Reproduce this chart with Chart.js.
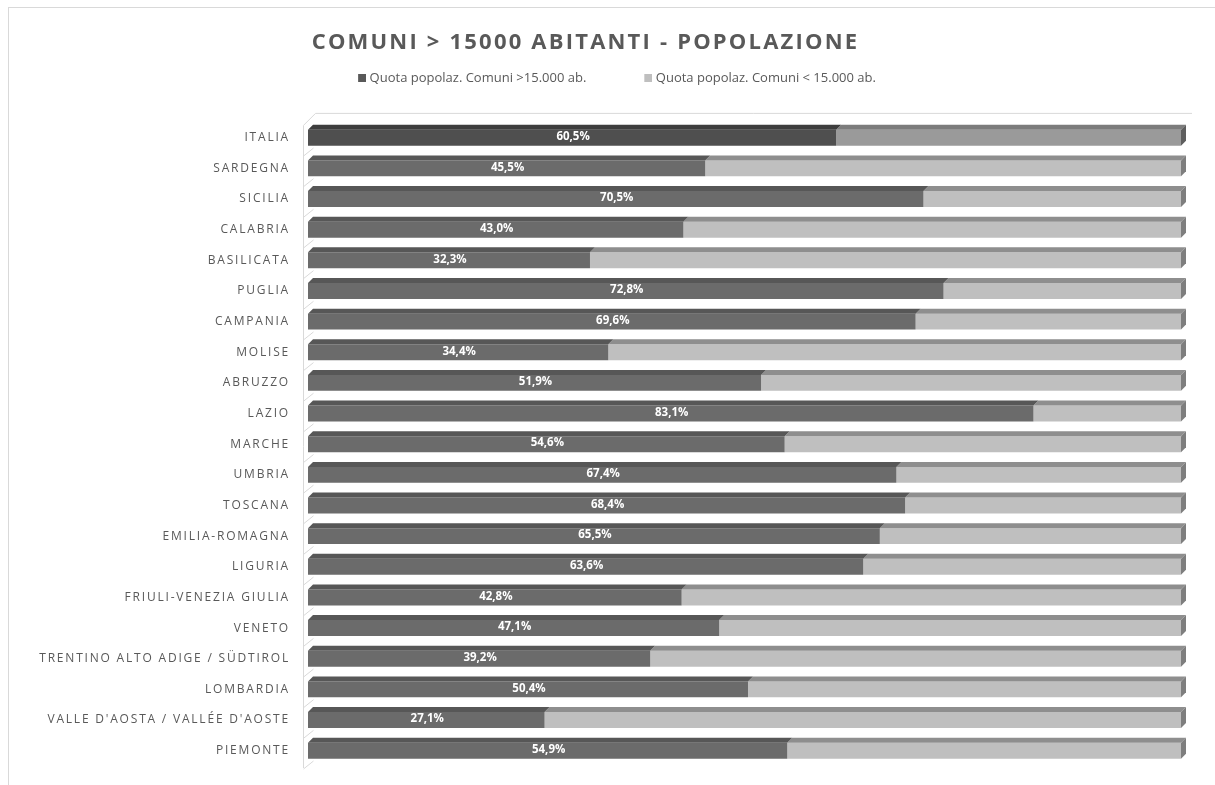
<!DOCTYPE html>
<html><head><meta charset="utf-8">
<script src="https://cdn.jsdelivr.net/npm/chart.js@4"></script>
<style>
html,body{margin:0;padding:0;background:#fff;overflow:hidden}
#frame{position:absolute;left:8px;top:7px;width:1215px;height:800px;border-left:1px solid #d9d9d9;border-top:1px solid #d9d9d9}
#wrap{position:absolute;left:0;top:0;width:1215px;height:785px}
</style></head><body>
<div id="frame"></div>
<div id="wrap"><canvas id="c" width="1215" height="785"></canvas></div>
<script>
const categories = ["ITALIA","SARDEGNA","SICILIA","CALABRIA","BASILICATA","PUGLIA","CAMPANIA","MOLISE","ABRUZZO","LAZIO","MARCHE","UMBRIA","TOSCANA","EMILIA-ROMAGNA","LIGURIA","FRIULI-VENEZIA GIULIA","VENETO","TRENTINO ALTO ADIGE / SÜDTIROL","LOMBARDIA","VALLE D'AOSTA / VALLÉE D'AOSTE","PIEMONTE"];
const quotaSopra = [60.5,45.5,70.5,43.0,32.3,72.8,69.6,34.4,51.9,83.1,54.6,67.4,68.4,65.5,63.6,42.8,47.1,39.2,50.4,27.1,54.9];
const quotaSotto = [39.5,54.5,29.5,57.0,67.7,27.2,30.4,65.6,48.1,16.9,45.4,32.6,31.6,34.5,36.4,57.2,52.9,60.8,49.6,72.9,45.1];
const seriesLabels = ["Quota popolaz. Comuni >15.000 ab.","Quota popolaz. Comuni < 15.000 ab."];
const titleText = "COMUNI > 15000 ABITANTI - POPOLAZIONE";

Chart.defaults.font.family = "'Open Sans', sans-serif";

const frontColors = [["#4f4f4f","#6b6b6b"],["#9a9a9a","#bfbfbf"]];
const topColors = [["#3d3d3d","#575757"],["#7c7c7c","#8e8e8e"]];
const sideColors = ["#5e5e5e","#7e7e7e"];
const legendFills = ["#595959","#bfbfbf"];
const D = 5;
const LEG_W = 58;

function legendSwatch(color){
  const cv = document.createElement('canvas');
  cv.width = LEG_W + 6; cv.height = 8;
  const g = cv.getContext('2d');
  g.fillStyle = color; g.fillRect(LEG_W + 6 - 8, 0, 8, 8);
  return cv;
}
const swatches = legendFills.map(legendSwatch);

const threeD = {
  id:'threeD',
  beforeDatasetsDraw(chart){
    const ctx = chart.ctx, a = chart.chartArea, ys = chart.scales.y;
    const step = ys.getPixelForValue(1) - ys.getPixelForValue(0);
    ctx.save();
    ctx.letterSpacing = '0px';
    ctx.strokeStyle = '#d9d9d9'; ctx.lineWidth = 1;
    ctx.beginPath();
    const lx = a.left - 4.5;
    ctx.moveTo(lx, a.top + 3); ctx.lineTo(lx, a.bottom + 2);
    ctx.moveTo(lx, a.top + 3); ctx.lineTo(lx + 12, a.top - 9);
    ctx.lineTo(a.right + 11, a.top - 9);
    for (let i = 1; i <= categories.length; i++) {
      const yb = ys.getPixelForValue(0) - step/2 + i*step + 3;
      ctx.moveTo(lx, yb); ctx.lineTo(lx + 10, yb - 8);
    }
    ctx.stroke();
    ctx.restore();
  },
  afterDatasetsDraw(chart){
    const ctx = chart.ctx;
    ctx.save();
    ctx.letterSpacing = '0px';
    const n = chart.data.datasets.length;
    for (let di = n - 1; di >= 0; di--) {
      const meta = chart.getDatasetMeta(di);
      meta.data.forEach((el, i) => {
        const p = el.getProps(['x','y','base','height'], true);
        const x0 = Math.min(p.base, p.x), x1 = Math.max(p.base, p.x);
        const t = p.y - p.height/2, b = p.y + p.height/2;
        ctx.fillStyle = topColors[di][i === 0 ? 0 : 1];
        ctx.beginPath();
        ctx.moveTo(x0, t); ctx.lineTo(x0 + D, t - D); ctx.lineTo(x1 + D, t - D); ctx.lineTo(x1, t);
        ctx.closePath(); ctx.fill();
        if (di === n - 1) {
          ctx.fillStyle = sideColors[i === 0 ? 0 : 1];
          ctx.beginPath();
          ctx.moveTo(x1, t); ctx.lineTo(x1 + D, t - D); ctx.lineTo(x1 + D, b - D); ctx.lineTo(x1, b);
          ctx.closePath(); ctx.fill();
        }
      });
    }
    const meta0 = chart.getDatasetMeta(0);
    ctx.fillStyle = '#ffffff';
    ctx.font = "bold 11.5px 'Open Sans', sans-serif";
    ctx.textAlign = 'center'; ctx.textBaseline = 'middle';
    meta0.data.forEach((el, i) => {
      const p = el.getProps(['x','y','base'], true);
      ctx.fillText(quotaSopra[i].toFixed(1).replace('.', ',') + '%', (p.x + p.base)/2 + 1, p.y - 1);
    });
    ctx.restore();
  }
};

const chart = new Chart(document.getElementById('c'), {
  type:'bar',
  data:{
    labels: categories,
    datasets:[
      {label: seriesLabels[0], data: quotaSopra, backgroundColor: categories.map((c,i)=>frontColors[0][i===0?0:1]), stack:'s', barPercentage:0.52, categoryPercentage:1},
      {label: seriesLabels[1], data: quotaSotto, backgroundColor: categories.map((c,i)=>frontColors[1][i===0?0:1]), stack:'s', barPercentage:0.52, categoryPercentage:1}
    ]
  },
  options:{
    responsive:false, animation:false, indexAxis:'y',
    layout:{padding:{left:0,right:34,top:0,bottom:19}},
    plugins:{
      title:{display:true, text:titleText, color:'#595959', font:{size:22, weight:'bold'}, padding:{top:30,bottom:10}},
      legend:{display:true, labels:{usePointStyle:true, pointStyleWidth:LEG_W, boxHeight:8, color:'#595959', font:{size:13}, padding:5,
        generateLabels(chart){
          return chart.data.datasets.map((ds,i)=>({text:ds.label, fillStyle:legendFills[i], strokeStyle:legendFills[i], lineWidth:0, pointStyle:swatches[i], datasetIndex:i, hidden:false, fontColor:'#595959'}));
        }}},
      tooltip:{enabled:false}
    },
    scales:{
      x:{stacked:true, min:0, max:100, position:'top', display:true,
         ticks:{display:false}, grid:{display:false, drawTicks:false}, border:{display:false},
         afterFit(s){ s.height = 28; }},
      y:{stacked:true, grid:{display:false}, border:{display:false},
         ticks:{color:'#595959', font:{size:12}, padding:10, autoSkip:false},
         afterFit(s){ s.width = 308; }}
    }
  },
  plugins:[threeD]
});

// letter spacing for title and category labels
const origTitleDraw = chart.titleBlock.draw.bind(chart.titleBlock);
chart.titleBlock.draw = function(){ const c = chart.ctx; c.save(); c.translate(-5, 0); c.letterSpacing = '2.2px'; origTitleDraw(); c.restore(); };
const ysc = chart.scales.y;
const origDrawLabels = ysc.drawLabels.bind(ysc);
ysc.drawLabels = function(area){ const c = chart.ctx; c.save(); c.letterSpacing = '1.8px'; origDrawLabels(area); c.restore(); };
chart.draw();
</script>
</body></html>
